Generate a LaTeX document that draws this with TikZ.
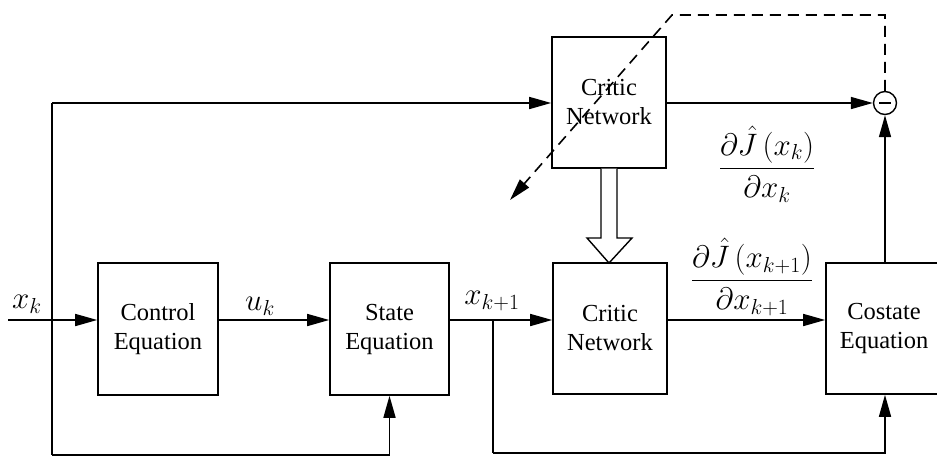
\RequirePackage{fix-cm}
\documentclass[tikz,border=0pt]{standalone}
\usepackage{fontspec}
\usepackage{amsmath}
\setmainfont{Liberation Serif}
\usetikzlibrary{arrows.meta,calc}

\tikzset{
  blk/.style={draw, line width=1.6pt, align=center, inner sep=0pt,
              font=\fontsize{24.5}{29}\selectfont},
  flow/.style={line width=1.6pt, -{Triangle[length=22pt,width=12pt]}},
  plain/.style={line width=1.6pt},
  lbl/.style={font=\fontsize{31}{36}\selectfont, inner sep=0pt},
  sumnode/.style={draw, circle, line width=1.4pt, minimum size=23pt, inner sep=0pt},
  fbk/.style={line width=1.6pt, dash pattern=on 11pt off 7pt,
              -{Triangle[length=22pt,width=12pt]}},
}

\begin{document}
\begin{tikzpicture}[x=1pt,y=-1pt]
  \clip (0,0) rectangle (937,456);
  \fill[white] (0,0) rectangle (937,456);

  % blocks
  \node[blk, minimum width=120pt, minimum height=132pt] (ctrl)  at (158,329)   {Control\\Equation};
  \node[blk, minimum width=119pt, minimum height=132pt] (state) at (389.5,329) {State\\Equation};
  \node[blk, minimum width=114pt, minimum height=131pt] (cn2)   at (610,328.5) {Critic\\Network};
  \node[blk, minimum width=116pt, minimum height=131pt] (cost)  at (884,328.5) {Costate\\Equation};
  \node[blk, minimum width=114pt, minimum height=131pt] (cn1)   at (609,102.5) {Critic\\Network};
  \node[sumnode] (sum) at (885,103) {};
  \draw[line width=1.2pt] ($(sum.center)+(-6,0)$) -- ($(sum.center)+(6,0)$);

  % branch points and corners
  \coordinate (in)  at (8,320);
  \coordinate (top) at (52,103);
  \coordinate (bot) at (52,455);
  \coordinate (sbot) at (389.5,455);
  \coordinate (bx2) at (493,320);
  \coordinate (bot2) at (493,453);
  \coordinate (cbot) at (885,453);

  % signal paths
  \draw[flow] (in) -- (ctrl.west |- in);
  \draw[plain] (top) -- (bot);
  \draw[flow] (top) -- (cn1.west |- top);
  \draw[flow] (bot) -- (sbot) -- (state.south);
  \draw[flow] (ctrl.east |- in) -- (state.west |- in);
  \draw[flow] (state.east |- in) -- (cn2.west |- in);
  \draw[plain] (bx2) -- (bot2);
  \draw[flow] (bot2) -- (cbot) -- (cost.south -| cbot);
  \draw[flow] (cn2.east |- in) -- (cost.west |- in);
  \draw[flow] (cn1.east |- sum) -- (sum.west);
  \draw[flow] (cost.north -| sum) -- (sum.south);

  % weight transfer (hollow arrow)
  \draw[line width=1.4pt, fill=white]
    (601,168.5) -- (601,238) -- (587,238) -- (609,263) -- (632,238)
    -- (617,238) -- (617,168.5);

  % dashed tuning path
  \coordinate (d1) at (885,15);
  \coordinate (d2) at (672,15);
  \coordinate (d3) at (510,200);
  \draw[fbk] (sum.north) -- (d1) -- (d2) -- (d3);

  % labels
  \node[lbl] (lxk)  at (27,304)  {$x_k$};
  \node[lbl] (luk)  at (260,306) {$u_k$};
  \node[lbl] (lxk1) at (492,301) {$x_{k+1}$};
  \node[lbl] (ld1)  at (767,164) {$\dfrac{\partial\hat{J}\,(x_k)}{\partial x_k}$};
  \node[lbl] (ld2)  at (752,277) {$\dfrac{\partial\hat{J}\,(x_{k+1})}{\partial x_{k+1}}$};
\end{tikzpicture}
\end{document}
